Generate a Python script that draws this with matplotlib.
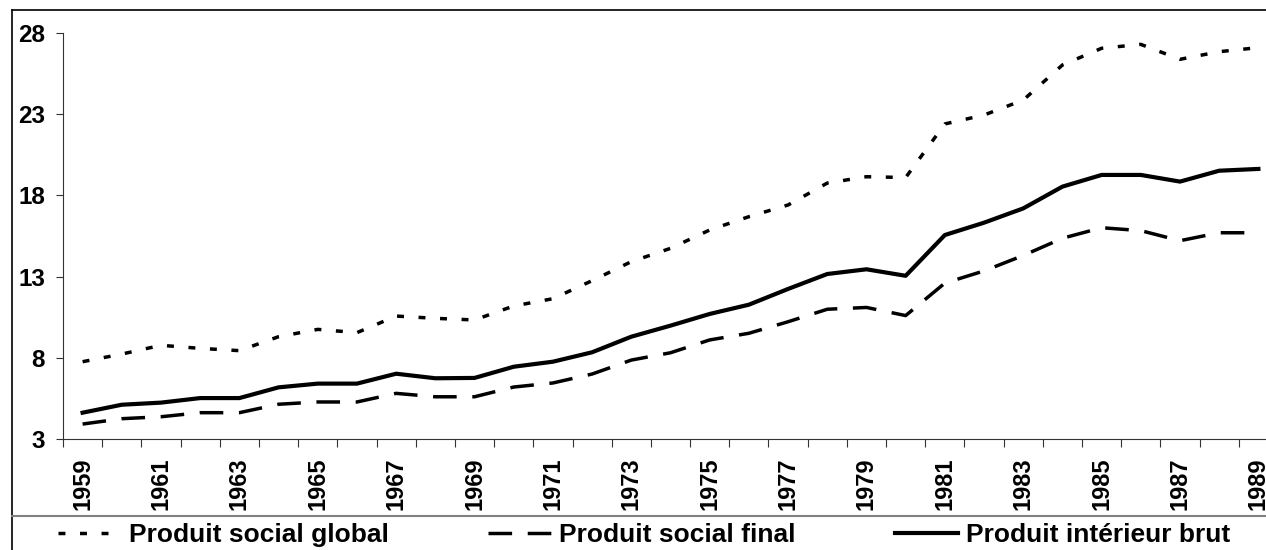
import matplotlib.pyplot as plt
from matplotlib.lines import Line2D

plt.rcParams['font.family'] = ['Liberation Sans', 'DejaVu Sans']
plt.rcParams['font.weight'] = 'bold'

years = list(range(1959, 1990))

# Produit social global
psg = [7.76, 8.23, 8.77, 8.58, 8.44, 9.30, 9.75, 9.55, 10.57, 10.43, 10.33,
       11.19, 11.64, 12.75, 13.92, 14.74, 15.87, 16.69, 17.41, 18.76, 19.15,
       19.10, 22.40, 22.95, 23.87, 26.03, 27.06, 27.30, 26.38, 26.85, 27.10]

# Produit social final
psf = [3.92, 4.25, 4.37, 4.62, 4.62, 5.14, 5.28, 5.28, 5.81, 5.60, 5.60,
       6.20, 6.45, 7.00, 7.86, 8.31, 9.10, 9.51, 10.22, 10.99, 11.10,
       10.60, 12.60, 13.35, 14.30, 15.36, 16.01, 15.83, 15.21, 15.70, 15.70]

# Produit intérieur brut
pib = [4.62, 5.11, 5.24, 5.52, 5.52, 6.18, 6.41, 6.41, 7.02, 6.74, 6.76,
       7.45, 7.76, 8.34, 9.30, 9.98, 10.70, 11.27, 12.24, 13.16, 13.45,
       13.05, 15.56, 16.32, 17.20, 18.54, 19.26, 19.26, 18.85, 19.52, 19.63]

labels = ['Produit social global', 'Produit social final', 'Produit intérieur brut']

W, H = 1266, 550
fig = plt.figure(figsize=(W / 100, H / 100), dpi=100)
ax = fig.add_axes([63 / W, (H - 439) / H, (1278 - 63) / W, (439 - 33) / H])

x = list(range(len(years)))
ax.plot(x, psg, color='black', lw=2.5, dashes=(2, 4.2), dash_capstyle='butt',
        label=labels[0])
ax.plot(x, psf, color='black', lw=2.5, dashes=(6.8, 4.5), dash_capstyle='butt',
        label=labels[1])
ax.plot(x, pib, color='black', lw=3.0, solid_joinstyle='round', label=labels[2])

ax.set_xlim(-0.5, len(years) - 0.5)
ax.set_ylim(3, 28)
ax.set_yticks([3, 8, 13, 18, 23, 28])
ax.tick_params(axis='y', direction='out', length=5, width=0.8, color='#333333',
               pad=8, labelsize=17.5)

# year labels every other year, tick marks between categories
ax.set_xticks(x[::2])
ax.set_xticklabels([str(y) for y in years[::2]], rotation=90)
ax.set_xticks([i - 0.5 for i in range(len(years) + 1)], minor=True)
ax.tick_params(axis='x', which='major', length=0, pad=13.5, labelsize=17)
ax.tick_params(axis='x', which='minor', direction='out', length=6, width=0.8,
               color='#333333')

for side in ['top', 'right']:
    ax.spines[side].set_visible(False)
for side in ['left', 'bottom']:
    ax.spines[side].set_color('#333333')
    ax.spines[side].set_linewidth(0.8)

# chart border and legend box edge
fig.add_artist(Line2D([12 / W, 12 / W], [0, 1 - 10 / H], transform=fig.transFigure,
                      color='black', lw=1.2))
fig.add_artist(Line2D([12 / W, 1], [1 - 10 / H, 1 - 10 / H], transform=fig.transFigure,
                      color='black', lw=1.2))
fig.add_artist(Line2D([12 / W, 1], [1 - 516 / H, 1 - 516 / H], transform=fig.transFigure,
                      color='#808080', lw=1.5))

fig.legend(loc='center left', bbox_to_anchor=(58 / W, 1 - 535 / H), ncol=3,
           frameon=False, fontsize=19, handlelength=2.4, handletextpad=0.3,
           columnspacing=3.75, borderpad=0, borderaxespad=0)

fig.savefig('out.png', dpi=100)
